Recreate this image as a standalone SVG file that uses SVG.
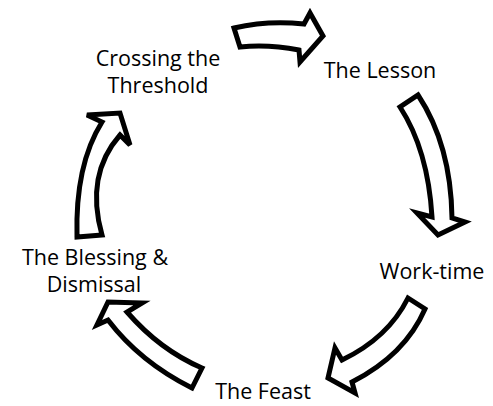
<svg xmlns="http://www.w3.org/2000/svg" width="493" height="406" viewBox="0 0 493 406">
<style>
.arr{fill:#fff;stroke:#000;stroke-width:5;stroke-linejoin:miter}
.lbl{font-family:"Open Sans","Liberation Sans",sans-serif;font-size:21.5px;fill:#000;text-anchor:middle}
</style>
<rect width="493" height="406" fill="#fff"/>
<g id="connectors">
<path class="arr" d="M234,28 Q268,20 304,24 L310,13 L323,36 L300,62 L299,50 Q268,44 240,47 Z"/>
<path class="arr" d="M418,95 Q451,145 452,218 L465,222 L438,235 L417,213 L432,217 Q428,150 400,107 Z"/>
<path class="arr" d="M408,298 L425,309 Q405,355 352,382 L355,393 L328,378 L335,348 L342,360 Q388,338 408,298 Z"/>
<path class="arr" d="M202,368 L192,388 Q140,362 108,320 L97,325 L108,302 L142,303 L127,312 Q160,350 202,368 Z"/>
<path class="arr" d="M77,237 Q75,165 102,122 L87,115 L120,113 L130,145 L120,135 Q85,175 102,235 Z"/>
</g>
<g id="node-crossing"><text class="lbl" x="158" y="66">Crossing the</text><text class="lbl" x="158" y="93">Threshold</text></g>
<g id="node-lesson"><text class="lbl" x="380" y="78">The Lesson</text></g>
<g id="node-worktime"><text class="lbl" x="432" y="279">Work-time</text></g>
<g id="node-feast"><text class="lbl" x="263" y="399">The Feast</text></g>
<g id="node-blessing"><text class="lbl" x="95" y="265">The Blessing &amp;</text><text class="lbl" x="94" y="292">Dismissal</text></g>
</svg>
